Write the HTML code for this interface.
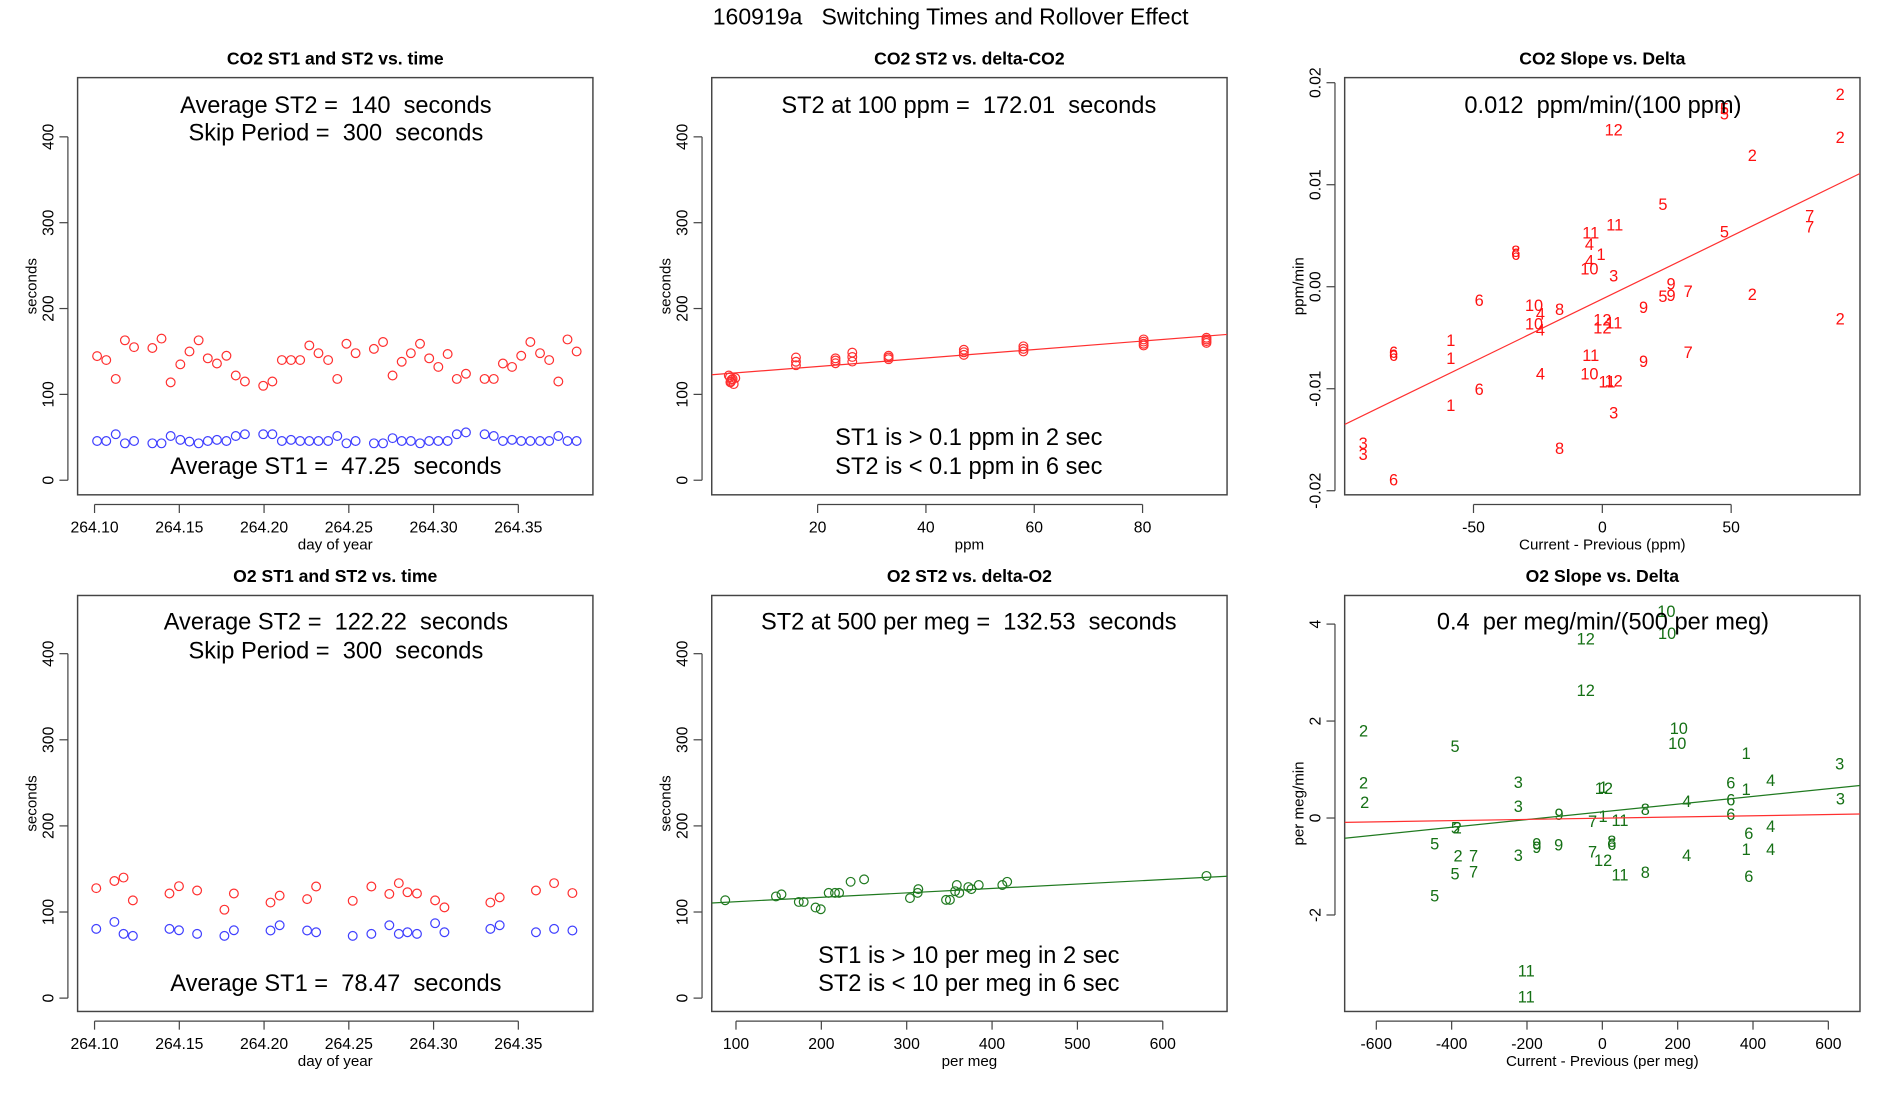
<!DOCTYPE html>
<html><head><meta charset="utf-8"><style>
html,body{margin:0;padding:0;background:#fff;}
svg{display:block;font-family:"Liberation Sans",Arial,sans-serif;}
</style></head><body>
<svg id="chart" width="1900" height="1100" viewBox="0 0 1567 907" preserveAspectRatio="none" xmlns="http://www.w3.org/2000/svg">
<rect x="0" y="0" width="1567" height="907" fill="#fff"/>
<text x="784" y="20" font-size="19" text-anchor="middle" xml:space="preserve" style="white-space:pre">160919a   Switching Times and Rollover Effect</text>
</svg>
<script>
// ---------- DATA ----------
const co2Days = [264.1015,264.1069,264.1125,264.1179,264.1233,264.1341,264.1395,264.1449,264.1506,264.1560,264.1614,264.1668,264.1722,264.1778,264.1833,264.1887,264.1995,264.2049,264.2105,264.2159,264.2213,264.2267,264.2321,264.2378,264.2432,264.2486,264.2540,264.2648,264.2702,264.2758,264.2812,264.2866,264.2920,264.2974,264.3028,264.3083,264.3137,264.3191,264.3301,264.3355,264.3409,264.3463,264.3517,264.3571,264.3628,264.3682,264.3736,264.3790,264.3844];
const co2St2 = [144.6,140,118,163,155,154,165,114,135,150,163,142,136,145,122,115,110,115,140,140,140,157,148,140,118,159,148,153,161,122,138,148,159,142,132,147,118,124,118,118,136,132,145,161,148,140,115,164,150];
const co2St1 = [45.7,45.7,53.6,43,45.7,43,43,51.5,47,45,43,45.7,47,45.7,51.5,53.6,53.6,53.6,45.7,47,45.7,45.7,45.7,45.7,51.5,43,45.7,43,43,49,45.7,45.7,43,45.7,45.7,45.7,53.6,55.7,53.6,51.5,45.7,47,45.7,45.7,45.7,45.7,51.5,45.7,45.7];
const o2Days = [264.1010,264.1117,264.1171,264.1226,264.1442,264.1498,264.1605,264.1766,264.1822,264.2038,264.2092,264.2254,264.2307,264.2523,264.2633,264.2739,264.2795,264.2846,264.2902,264.3009,264.3064,264.3335,264.3390,264.3604,264.3711,264.3819];
const o2St2 = [127.7,136,140,113.5,121.5,130,125,102.7,121.5,111,119,115,129.6,113,129.6,121,133.5,123,121.5,113.5,105.4,111,117,125,133.5,122];
const o2St1 = [80.4,88.5,74.6,72.3,80.4,78.8,74.6,72.3,78.8,78.5,84.6,78.5,76.5,72.3,74.6,84.6,74.6,76.5,74.6,87,76.5,80.4,84.6,76.5,80.4,78.5];

const co2Delta = [4,4.3,3.8,4.5,3.6,4.1,4.8,3.9,16,16,16,23.3,23.3,23.3,26.4,26.4,26.4,33.1,33.1,33.1,47,47,47,58,58,58,80.2,80.2,80.2,80.2,91.8,91.8,91.8,91.8];
const co2DeltaSt2 = [115,118,120,112,122,117,119,114,143,138,134,142,139.5,136.3,148.7,143.6,138.2,145,143,141,152,149,146,156,153,150,164,161.5,159,157,166,164,162,160];
const co2FitA = 122.6, co2FitB = 0.494;

const o2Delta = [87.4,146.8,153.3,173.6,179.3,193.2,199.3,208.6,216,220.8,234.3,250.1,303.8,312.8,313.6,346.1,350.6,356.7,358.7,361.6,372.2,375.8,384.4,412,417.7,651.2];
const o2DeltaSt2 = [113.7,118.1,120.5,111.7,111.7,105.2,103.2,122.2,122.2,122.2,135.1,137.9,116.1,122.2,126.6,114.1,114.1,124.2,131.4,122.2,129,126.6,131.4,131.4,135.1,141.9];
const o2FitA = 106.8, o2FitB = 0.0514;

const co2SlopeLabels = ["2","5","5","12","2","2","5","11","11","5","7","7","4","8","6","1","4","10","3","9","5","9","7","2","6","10","4","8","9","12","11","10","4","12","2","1","1","6","6","11","9","7","4","10","11","12","6","1","3","3","3","8","6"];
const co2SlopeX = [92.3,47.4,47.4,4.4,92.3,58.2,23.5,4.8,-4.5,47.4,80.5,80.5,-5,-33.6,-33.6,-0.5,-5,-5,4.4,26.7,23.5,26.7,33.3,58.2,-47.8,-26.5,-24,-16.6,16,0,4.5,-26.5,-24,0,92.3,-58.8,-58.8,-81,-81,-4.5,16,33.3,-24,-5,1.8,4.4,-47.8,-58.8,4.4,-92.8,-92.8,-16.6,-81];
const co2SlopeY = [0.0189,0.0175,0.0170,0.0154,0.0147,0.0129,0.0081,0.0061,0.0053,0.0054,0.0070,0.0059,0.0042,0.0035,0.0032,0.0032,0.0026,0.0018,0.0011,0.0003,-0.0009,-0.0008,-0.0004,-0.0007,-0.0013,-0.0018,-0.0026,-0.0022,-0.0020,-0.0032,-0.0035,-0.0036,-0.0042,-0.0040,-0.0031,-0.0052,-0.0070,-0.0064,-0.0067,-0.0067,-0.0073,-0.0064,-0.0085,-0.0085,-0.0093,-0.0092,-0.0100,-0.0116,-0.0123,-0.0153,-0.0164,-0.0158,-0.0189];
const co2SlopeFitA = -0.0012, co2SlopeFitB = 0.000123;

const o2SlopeLabels = ["10","10","12","12","2","10","10","5","1","3","2","3","6","4","1","12","1","2","3","6","4","3","8","9","6","1","7","11","5","2","6","4","5","9","9","9","8","6","1","4","7","2","7","3","4","12","5","7","11","8","6","5","11","11"];
const o2SlopeX = [170,172,-44,-44,-634,203,199,-391,382,630,-634,-223,341,447,3,4,382,-631,632,341,224,-223,114,-115,341,2,-26,47,-390,-385,389,447,-445,-174,-174,-116,25,25,382,447,-26,-383,-342,-223,224,2,-391,-342,47,114,389,-445,-202,-202];
const o2SlopeY = [4.27,3.82,3.70,2.64,1.81,1.86,1.55,1.49,1.34,1.13,0.73,0.74,0.73,0.79,0.64,0.62,0.60,0.33,0.40,0.38,0.35,0.25,0.19,0.08,0.08,0.04,-0.06,-0.04,-0.19,-0.19,-0.31,-0.16,-0.52,-0.52,-0.60,-0.55,-0.47,-0.53,-0.64,-0.64,-0.69,-0.77,-0.77,-0.76,-0.76,-0.86,-1.14,-1.10,-1.16,-1.11,-1.19,-1.60,-3.14,-3.68];
const o2SlopeFitA = 0.127, o2SlopeFitB = 0.000795;
const o2SlopeRedA = -0.0035, o2SlopeRedB = 0.000125;

const dayTicks = [264.10,264.15,264.20,264.25,264.30,264.35];
const dayTickLabels = ["264.10","264.15","264.20","264.25","264.30","264.35"];
const secTicks = [0,100,200,300,400];
const ppmTicks = [20,40,60,80];
const permegTicks = [100,200,300,400,500,600];
const co2SlopeXTicks = [-50,0,50];
const co2SlopeYTicks = [0.02,0.01,0,-0.01,-0.02];
const co2SlopeYTickLabels = ["0.02","0.01","0.00","-0.01","-0.02"];
const o2SlopeXTicks = [-600,-400,-200,0,200,400,600];
const o2SlopeYTicks = [4,2,0,-2];

// ---------- DRAWING ----------
const NS = "http://www.w3.org/2000/svg";
const svg = document.getElementById('chart');
function mk(tag, attrs, parent) {
  const e = document.createElementNS(NS, tag);
  for (const k in attrs) e.setAttribute(k, attrs[k]);
  (parent || svg).appendChild(e);
  return e;
}
function txt(s, x, y, size, parent, anchor, extra) {
  const t = mk('text', Object.assign({x: x, y: y, 'font-size': size, 'text-anchor': anchor || 'middle'}, extra || {}), parent);
  t.textContent = s;
  return t;
}

function panel(name, box, xd, yd, title, xlab, ylab, xt, xtl, yt, ytl) {
  const g = mk('g', {});
  
  
  const sx = v => box.x0 + (v - xd[0]) / (xd[1] - xd[0]) * (box.x1 - box.x0);
  const sy = v => box.y1 - (v - yd[0]) / (yd[1] - yd[0]) * (box.y1 - box.y0);
  const fr = mk('rect', {x: box.x0, y: box.y0, width: box.x1 - box.x0, height: box.y1 - box.y0, fill: 'none', stroke: '#444', 'stroke-width': 1.2}, g);
  
  
  const tt = txt(title, (box.x0 + box.x1) / 2, box.y0 - 11, 14.5, g, 'middle', {'font-weight': 'bold'});
  
  
  const xa = mk('g', {}, g);
  
  
  const bx = box.y1 + 8;
  mk('line', {x1: sx(xt[0]), x2: sx(xt[xt.length - 1]), y1: bx, y2: bx, stroke: '#444'}, xa);
  xt.forEach((v, i) => {
    mk('line', {x1: sx(v), x2: sx(v), y1: bx, y2: bx + 7, stroke: '#444'}, xa);
    const l = txt(xtl[i], sx(v), bx + 23, 13, xa);
    
    
  });
  const xl = txt(xlab, (box.x0 + box.x1) / 2, bx + 37, 12.5, g);
  
  
  const ya = mk('g', {}, g);
  
  
  const ax = box.x0 - 8;
  mk('line', {x1: ax, x2: ax, y1: sy(yt[0]), y2: sy(yt[yt.length - 1]), stroke: '#444'}, ya);
  yt.forEach((v, i) => {
    mk('line', {x1: ax - 7, x2: ax, y1: sy(v), y2: sy(v), stroke: '#444'}, ya);
    const lx = ax - 12, ly = sy(v);
    const l = txt(ytl[i], lx, ly, 13, ya, 'middle', {transform: 'rotate(-90 ' + lx + ' ' + ly + ')'});
    
    
  });
  const yx = box.x0 - 34, yy = (box.y0 + box.y1) / 2;
  const yl = txt(ylab, yx, yy, 12.5, g, 'middle', {transform: 'rotate(-90 ' + yx + ' ' + yy + ')'});
  
  
  const clipId = 'c' + name;
  const cp = mk('clipPath', {id: clipId}, g);
  mk('rect', {x: box.x0, y: box.y0, width: box.x1 - box.x0, height: box.y1 - box.y0}, cp);
  const plot = mk('g', {'clip-path': 'url(#' + clipId + ')'}, g);
  return {g: g, plot: plot, sx: sx, sy: sy, box: box, xd: xd};
}
function points(p, xs, ys, color, nm) {
  xs.forEach((x, i) => {
    const c = mk('circle', {cx: p.sx(x), cy: p.sy(ys[i]), r: 3.6, fill: 'none', stroke: color, 'stroke-width': 1}, p.plot);
    
    
  });
}
function fitLine(p, a, b, color, nm) {
  const x0 = p.xd[0], x1 = p.xd[1];
  const l = mk('line', {x1: p.sx(x0), y1: p.sy(a + b * x0), x2: p.sx(x1), y2: p.sy(a + b * x1), stroke: color, 'stroke-width': 1}, p.plot);
  
  
}
function labels(p, labs, xs, ys, color, nm) {
  labs.forEach((s, i) => {
    const t = txt(s, p.sx(xs[i]), p.sy(ys[i]) + 5, 13.5, p.plot, 'middle', {fill: color});
    
    
  });
}
function note(p, s, x, y, nm) {
  const t = txt(s, x, y, 19.5, p.g, 'middle', {'xml:space': 'preserve'});
  
  
  t.style.whiteSpace = 'pre';
}
const secLabs = secTicks.map(String);

const p1 = panel('co2-time-panel', {x0: 64, x1: 489, y0: 64, y1: 408}, [264.090, 264.394], [-17, 469], 'CO2 ST1 and ST2 vs. time', 'day of year', 'seconds', dayTicks, dayTickLabels, secTicks, secLabs);
points(p1, co2Days, co2St2, '#ff3030', 'co2-st2-point');
points(p1, co2Days, co2St1, '#4040ff', 'co2-st1-point');
note(p1, 'Average ST2 =  140  seconds', 277, 93, 'co2-avg-st2-note');
note(p1, 'Skip Period =  300  seconds', 277, 116, 'co2-skip-note');
note(p1, 'Average ST1 =  47.25  seconds', 277, 391, 'co2-avg-st1-note');

const p4 = panel('o2-time-panel', {x0: 64, x1: 489, y0: 491, y1: 834}, [264.090, 264.394], [-15.5, 467.6], 'O2 ST1 and ST2 vs. time', 'day of year', 'seconds', dayTicks, dayTickLabels, secTicks, secLabs);
points(p4, o2Days, o2St2, '#ff3030', 'o2-st2-point');
points(p4, o2Days, o2St1, '#4040ff', 'o2-st1-point');
note(p4, 'Average ST2 =  122.22  seconds', 277, 519, 'o2-avg-st2-note');
note(p4, 'Skip Period =  300  seconds', 277, 543, 'o2-skip-note');
note(p4, 'Average ST1 =  78.47  seconds', 277, 817, 'o2-avg-st1-note');

const p2 = panel('co2-st2-delta-panel', {x0: 587, x1: 1012, y0: 64, y1: 408}, [0.45, 95.6], [-17, 469], 'CO2 ST2 vs. delta-CO2', 'ppm', 'seconds', ppmTicks, ppmTicks.map(String), secTicks, secLabs);
points(p2, co2Delta, co2DeltaSt2, '#ff3030', 'co2-delta-point');
fitLine(p2, co2FitA, co2FitB, '#ff3030', 'co2-fit-line');
note(p2, 'ST2 at 100 ppm =  172.01  seconds', 799, 93, 'co2-st2-100-note');
note(p2, 'ST1 is > 0.1 ppm in 2 sec', 799, 367, 'co2-st1-note');
note(p2, 'ST2 is < 0.1 ppm in 6 sec', 799, 391, 'co2-st2-note');

const p5 = panel('o2-st2-delta-panel', {x0: 587, x1: 1012, y0: 491, y1: 834}, [71.6, 675.3], [-15.5, 467.6], 'O2 ST2 vs. delta-O2', 'per meg', 'seconds', permegTicks, permegTicks.map(String), secTicks, secLabs);
points(p5, o2Delta, o2DeltaSt2, '#207a20', 'o2-delta-point');
fitLine(p5, o2FitA, o2FitB, '#207a20', 'o2-fit-line');
note(p5, 'ST2 at 500 per meg =  132.53  seconds', 799, 519, 'o2-st2-500-note');
note(p5, 'ST1 is > 10 per meg in 2 sec', 799, 794, 'o2-st1-note');
note(p5, 'ST2 is < 10 per meg in 6 sec', 799, 817, 'o2-st2-note');

const p3 = panel('co2-slope-panel', {x0: 1109, x1: 1534, y0: 64, y1: 408}, [-100, 100], [-0.0204, 0.0205], 'CO2 Slope vs. Delta', 'Current - Previous (ppm)', 'ppm/min', co2SlopeXTicks, co2SlopeXTicks.map(String), co2SlopeYTicks, co2SlopeYTickLabels);
labels(p3, co2SlopeLabels, co2SlopeX, co2SlopeY, '#ff1010', 'co2-slope-label');
fitLine(p3, co2SlopeFitA, co2SlopeFitB, '#ff3030', 'co2-slope-fit-line');
note(p3, '0.012  ppm/min/(100 ppm)', 1322, 93, 'co2-slope-note');

const p6 = panel('o2-slope-panel', {x0: 1109, x1: 1534, y0: 491, y1: 834}, [-684, 684], [-3.99, 4.59], 'O2 Slope vs. Delta', 'Current - Previous (per meg)', 'per meg/min', o2SlopeXTicks, o2SlopeXTicks.map(String), o2SlopeYTicks, o2SlopeYTicks.map(String));
labels(p6, o2SlopeLabels, o2SlopeX, o2SlopeY, '#157015', 'o2-slope-label');
fitLine(p6, o2SlopeFitA, o2SlopeFitB, '#207a20', 'o2-slope-fit-line');
fitLine(p6, o2SlopeRedA, o2SlopeRedB, '#ff3030', 'o2-slope-red-line');
note(p6, '0.4  per meg/min/(500 per meg)', 1322, 519, 'o2-slope-note');
</script>
</body></html>
